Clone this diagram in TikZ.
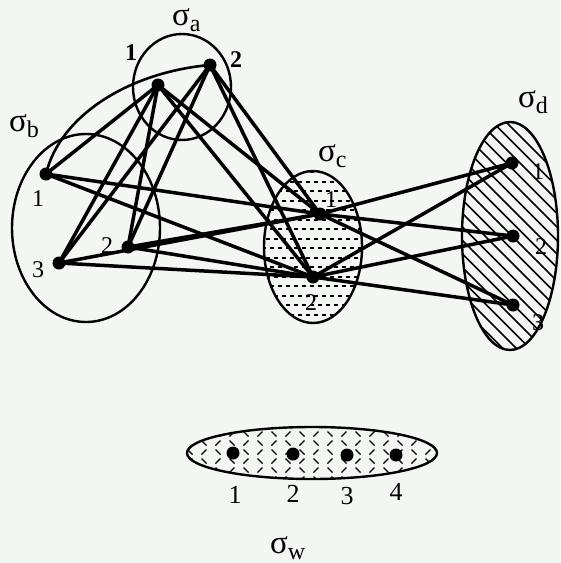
\documentclass[tikz,border=0pt]{standalone}
\usepackage{fontspec}
\setmainfont{Liberation Serif}
\definecolor{bg}{RGB}{243,247,242}
\newcommand{\sg}[1]{{\fontsize{33}{33}\selectfont σ}\raisebox{-6pt}{\fontsize{24}{24}\selectfont #1}}
\begin{document}
\begin{tikzpicture}[x=1pt,y=-1pt,
  dot/.style={circle,fill=black,inner sep=0pt,minimum size=13pt},
  edge/.style={line width=3.5pt},
  rim/.style={line width=2.4pt},
  lab/.style={font=\fontsize{24}{24}\selectfont,inner sep=0pt},
  blab/.style={font=\bfseries\fontsize{24}{24}\selectfont,inner sep=0pt},
  wlab/.style={font=\fontsize{26}{26}\selectfont,inner sep=0pt},
  sig/.style={inner sep=0pt,anchor=base west}]
\fill[bg] (0,0) rectangle (561,563);
\useasboundingbox (0,0) rectangle (561,563);

% sigma_c fill
\begin{scope}
\clip (313,247) ellipse [x radius=49pt,y radius=76pt];
\foreach \r in {0,2,...,16} {\draw[line width=2pt,dash pattern=on 4pt off 4pt] (262,172+9.5*\r) -- (366,172+9.5*\r);}
\foreach \r in {1,3,...,15} {\draw[line width=2pt,dash pattern=on 4pt off 4pt,dash phase=4pt] (262,172+9.5*\r) -- (366,172+9.5*\r);}
\end{scope}
% sigma_d hatch
\begin{scope}
\clip (510,236) ellipse [x radius=48pt,y radius=114pt];
\foreach \k in {0,...,30} {\draw[line width=1.5pt] (160+13.5*\k,100) -- (420+13.5*\k,360);}
\end{scope}
% sigma_w pattern
\begin{scope}
\clip (312,453) ellipse [x radius=125pt,y radius=26pt];
\foreach \i in {0,...,9} {\foreach \j in {0,1,2} {
  \draw[line width=1.4pt] (190+28*\i-2.5,434+18*\j-2.5) -- ++(5,5);
  \draw[line width=1.4pt] (204+28*\i-2.5,443+18*\j-2.5) -- ++(5,5);
  \draw[line width=1.4pt] (204+28*\i-2.5,434+18*\j+2.5) -- ++(5,-5);
  \draw[line width=1.4pt] (190+28*\i-2.5,443+18*\j+2.5) -- ++(5,-5);
}}
\end{scope}

% ellipses
\draw[rim] (182,87) ellipse [x radius=49pt,y radius=53pt];
\draw[rim] (86,228) ellipse [x radius=74pt,y radius=94pt];
\draw[rim] (313,247) ellipse [x radius=49pt,y radius=76pt];
\draw[rim] (510,236) ellipse [x radius=48pt,y radius=114pt];
\draw[rim] (312,453) ellipse [x radius=125pt,y radius=26pt];

% points
\node[dot] (a1) at (158,85) {};
\node[dot] (a2) at (210,65) {};
\node[dot] (b1) at (46,174) {};
\node[dot] (b2) at (128,247) {};
\node[dot] (b3) at (59,263) {};
\node[dot] (c1) at (320,214) {};
\node[dot] (c2) at (313,277) {};
\node[dot] (d1) at (512,163) {};
\node[dot] (d2) at (513,236) {};
\node[dot] (d3) at (513,305) {};
\node[dot] (w1) at (233,453) {};
\node[dot] (w2) at (293,454) {};
\node[dot] (w3) at (347,455) {};
\node[dot] (w4) at (396,455) {};

% edges
\foreach \u/\v in {a1/b1,a1/b2,a1/b3,a2/b2,a2/b3,
  a1/c1,a1/c2,a2/c1,a2/c2,
  b1/c1,b1/c2,b2/c1,b2/c2,b3/c1,b3/c2,
  c1/d1,c1/d2,c1/d3,c2/d1,c2/d2,c2/d3}
  {\draw[edge] (\u.center) -- (\v.center);}
\draw[line width=2.6pt] (b1.center) .. controls (60,115) and (130,72) .. (a2.center);

% labels
\node[sig] (la) at (172,25) {\sg{a}};
\node[blab] (la1) at (131,53) {1};
\node[blab] (la2) at (236,60) {2};
\node[sig] (lb) at (9,131) {\sg{b}};
\node[lab] (lb1) at (38,199) {1};
\node[lab] (lb2) at (107,246) {2};
\node[lab] (lb3) at (38,270) {3};
\node[sig] (lc) at (318,161) {\sg{c}};
\node[lab] (lc1) at (331,200) {1};
\node[lab] (lc2) at (311,303) {2};
\node[sig] (ld) at (518,107) {\sg{d}};
\node[lab] (ld1) at (538,172) {1};
\node[lab] (ld2) at (541,247) {2};
\node[lab] (ld3) at (538,323) {3};
\node[wlab] (lw1) at (235,495) {1};
\node[wlab] (lw2) at (293,494) {2};
\node[wlab] (lw3) at (347,496) {3};
\node[wlab] (lw4) at (396,492) {4};
\node[sig] (lw) at (270,553) {\sg{w}};
\end{tikzpicture}
\end{document}
